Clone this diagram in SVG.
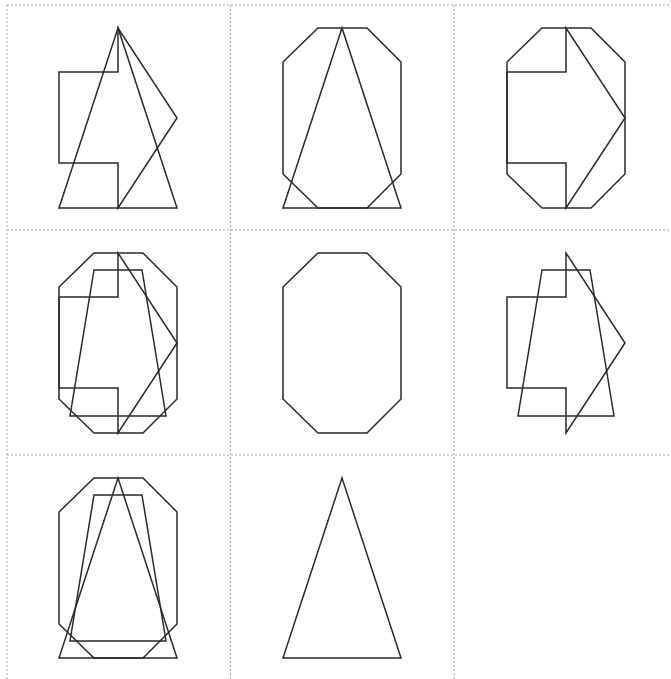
<svg xmlns="http://www.w3.org/2000/svg" xmlns:xlink="http://www.w3.org/1999/xlink" width="671" height="679" viewBox="0 0 671 679">
<style>
.grid{stroke:#a8a8a8;stroke-width:1;stroke-dasharray:2 2;fill:none}
.s{fill:none;stroke:#2a2a2a;stroke-width:1.5;stroke-linejoin:miter}
</style>
<defs>
<polygon id="arrow" class="s" points="59,72 118,72 118,28 177,118 118,208 118,163 59,163"/>
<polygon id="tri" class="s" points="118,28 59,208 177,208"/>
<polygon id="oct" class="s" points="94,28 143,28 177,62 177,174 143,208 94,208 59,174 59,62"/>
<polygon id="trap" class="s" points="94,45 142,45 166,191 70,191"/>
</defs>
<rect width="671" height="679" fill="#ffffff"/>
<g id="grid">
<line class="grid" x1="7" y1="5" x2="671" y2="5"/>
<line class="grid" x1="7" y1="230" x2="671" y2="230"/>
<line class="grid" x1="7" y1="455" x2="671" y2="455"/>
<line class="grid" x1="7" y1="5" x2="7" y2="679"/>
<line class="grid" x1="230.5" y1="5" x2="230.5" y2="679"/>
<line class="grid" x1="454" y1="5" x2="454" y2="679"/>
</g>
<g id="cell1"><use xlink:href="#arrow"/><use xlink:href="#tri"/></g>
<g id="cell2" transform="translate(224,0)"><use xlink:href="#oct"/><use xlink:href="#tri"/></g>
<g id="cell3" transform="translate(448,0)"><use xlink:href="#oct"/><use xlink:href="#arrow"/></g>
<g id="cell4" transform="translate(0,225)"><use xlink:href="#oct"/><use xlink:href="#arrow"/><use xlink:href="#trap"/></g>
<g id="cell5" transform="translate(224,225)"><use xlink:href="#oct"/></g>
<g id="cell6" transform="translate(448,225)"><use xlink:href="#arrow"/><use xlink:href="#trap"/></g>
<g id="cell7" transform="translate(0,450)"><use xlink:href="#oct"/><use xlink:href="#tri"/><use xlink:href="#trap"/></g>
<g id="cell8" transform="translate(224,450)"><use xlink:href="#tri"/></g>
<g id="connectors"></g>
</svg>
